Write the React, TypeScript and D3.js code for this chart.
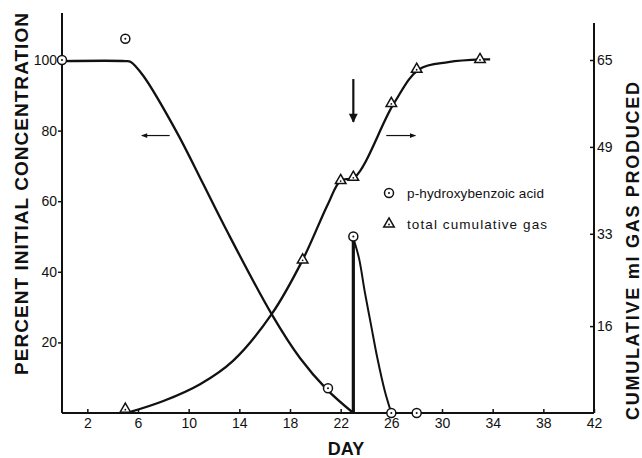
import React, { useEffect, useRef } from "react";
import * as d3 from "d3";

// observed points
const acidDays = [0, 5, 21, 23, 26, 28];
const acidValues = [100, 106, 7, 50, 0, 0];
const gasDays = [5, 19, 22, 23, 26, 28, 33];
const gasValues = [0.7, 28.2, 42.8, 43.4, 57, 63.3, 65.1];

// hand drawn curves through the points
const acidCurveDays = [0, 5, 5.4, 6.4, 9.1, 11.1, 12.9, 16.55, 18.8, 20.9, 23];
const acidCurveValues = [99.7, 99.7, 99.5, 95.6, 79.3, 65.2, 52.4, 28, 15.5, 6.7, 0];
const spikeDays = [23, 23.45, 23.9, 24.4, 24.9, 25.5, 26];
const spikeValues = [49.5, 43.8, 34.4, 24.9, 15.5, 6, 0];
const gasCurveDays = [5.4, 8, 10.9, 13.5, 16.55, 19, 21, 22, 23.1, 26.2, 28.2, 30.5, 33.1, 33.8];
const gasCurveValues = [0.2, 2.2, 5.3, 9.6, 18.2, 28.2, 38.5, 42.8, 43.4, 57, 63.3, 64.6, 65.1, 65.1];

const dayTicks = [2, 6, 10, 14, 18, 22, 26, 30, 34, 38, 42];
const percentTicks = [20, 40, 60, 80, 100];
const gasTicks = [16, 33, 49, 65];

const legendLabels = ["p-hydroxybenzoic acid", "total cumulative gas"];

const W = 642;
const H = 458;
const left = 62;
const right = 594;
const bottom = 413;
const font = "'Liberation Sans', Arial, sans-serif";

function Circle({ x, y }: { x: number; y: number }) {
  return (
    <g>
      <circle cx={x} cy={y} r={4.5} fill="#fff" stroke="#111" strokeWidth={1.5} />
      <circle cx={x} cy={y} r={1} fill="#111" />
    </g>
  );
}

function Tri({ x, y }: { x: number; y: number }) {
  const p = d3.symbol(d3.symbolTriangle, 48)() as string;
  return (
    <g transform={`translate(${x},${y})`}>
      <path d={p} fill="#fff" stroke="#111" strokeWidth={1.5} />
      <circle r={0.9} cy={0.5} fill="#111" />
    </g>
  );
}

export default function App() {
  const leftRef = useRef<SVGGElement>(null);
  const rightRef = useRef<SVGGElement>(null);
  const bottomRef = useRef<SVGGElement>(null);

  const x = d3.scaleLinear().domain([0, 42]).range([left, right]);
  const y = d3.scaleLinear().domain([0, 100]).range([bottom, 60]);
  const yg = d3.scaleLinear().domain([0, 65]).range([bottom, 60]);

  useEffect(() => {
    const style = (g: d3.Selection<SVGGElement, unknown, null, undefined>) => {
      g.select(".domain").remove();
      g.selectAll("line").attr("stroke", "#111").attr("stroke-width", 1.5);
      g.selectAll("text")
        .attr("fill", "#111")
        .style("font-family", font)
        .style("font-size", "14px");
    };
    d3.select(leftRef.current!)
      .call(d3.axisLeft(y).tickValues(percentTicks).tickSize(4).tickPadding(1))
      .call(style);
    d3.select(rightRef.current!)
      .call(d3.axisRight(yg).tickValues(gasTicks).tickSize(-4).tickPadding(3))
      .call(style);
    d3.select(bottomRef.current!)
      .call(d3.axisBottom(x).tickValues(dayTicks).tickSize(-4).tickPadding(5))
      .call(style);
  }, []);

  const line = d3.line<[number, number]>().curve(d3.curveCatmullRom.alpha(0.5));

  const acidPath = line(acidCurveDays.map((d, i) => [x(d), y(acidCurveValues[i])]));
  const spikePath = line(spikeDays.map((d, i) => [x(d), y(spikeValues[i])]));
  const gasPath = line(gasCurveDays.map((d, i) => [x(d), yg(gasCurveValues[i])]));

  return (
    <div style={{ position: "absolute", left: 0, top: 0 }}>
      <svg width={W} height={H} style={{ display: "block", background: "#fff" }}>
        <defs>
          <marker id="head" viewBox="0 0 10 10" refX={9} refY={5} markerWidth={7} markerHeight={5} orient="auto">
            <path d="M0,1 L10,5 L0,9 Z" fill="#111" />
          </marker>
          <marker id="bighead" viewBox="0 0 10 10" refX={9} refY={5} markerWidth={6} markerHeight={4} orient="auto">
            <path d="M0,0 L10,5 L0,10 Z" fill="#111" />
          </marker>
        </defs>

        {/* axis lines */}
        <line x1={left} x2={left} y1={13} y2={bottom} stroke="#111" strokeWidth={2} />
        <line x1={right} x2={right} y1={23} y2={bottom} stroke="#111" strokeWidth={2} />
        <line x1={left} x2={right} y1={bottom} y2={bottom} stroke="#111" strokeWidth={2} />
        <g ref={leftRef} transform={`translate(${left},0)`} />
        <g ref={rightRef} transform={`translate(${right},0)`} />
        <g ref={bottomRef} transform={`translate(0,${bottom})`} />

        {/* curves */}
        <path d={acidPath || ""} fill="none" stroke="#111" strokeWidth={2.3} />
        <path d={gasPath || ""} fill="none" stroke="#111" strokeWidth={2.3} />
        <path d={spikePath || ""} fill="none" stroke="#111" strokeWidth={2} />
        <line x1={x(23)} x2={x(23)} y1={y(0)} y2={y(49.5)} stroke="#111" strokeWidth={3.2} />

        {/* arrows */}
        <line x1={x(8.5)} x2={x(6.3)} y1={y(78.6)} y2={y(78.6)} stroke="#111" strokeWidth={1.2} markerEnd="url(#head)" />
        <line x1={x(25.6)} x2={x(27.9)} y1={y(78.6)} y2={y(78.6)} stroke="#111" strokeWidth={1.2} markerEnd="url(#head)" />
        <line x1={x(23)} x2={x(23)} y1={y(94.6)} y2={y(82.5)} stroke="#111" strokeWidth={2.2} markerEnd="url(#bighead)" />

        {/* markers */}
        {acidDays.map((d, i) => (
          <Circle key={"a" + i} x={x(d)} y={y(acidValues[i])} />
        ))}
        {gasDays.map((d, i) => (
          <Tri key={"g" + i} x={x(d)} y={yg(gasValues[i])} />
        ))}

        {/* legend */}
        <Circle x={389} y={193} />
        <Tri x={389} y={224} />
        <text x={407} y={198} fontFamily={font} fontSize={13.5} fill="#111" textLength={137}>
          {legendLabels[0]}
        </text>
        <text x={407} y={229} fontFamily={font} fontSize={13.5} fill="#111" textLength={140}>
          {legendLabels[1]}
        </text>

        {/* titles */}
        <text
          transform="translate(28,194) rotate(-90)"
          textAnchor="middle"
          fontFamily={font}
          fontSize={19}
          fontWeight="bold"
          fill="#111"
          textLength={362}
          lengthAdjust="spacing"
        >
          PERCENT INITIAL CONCENTRATION
        </text>
        <text
          transform="translate(639,251) rotate(-90)"
          textAnchor="middle"
          fontFamily={font}
          fontSize={18}
          fontWeight="bold"
          fill="#111"
          textLength={338}
          lengthAdjust="spacing"
        >
          CUMULATIVE ml GAS PRODUCED
        </text>
        <text x={346} y={455} textAnchor="middle" fontFamily={font} fontSize={18} fontWeight="bold" fill="#111">
          DAY
        </text>
      </svg>
    </div>
  );
}
